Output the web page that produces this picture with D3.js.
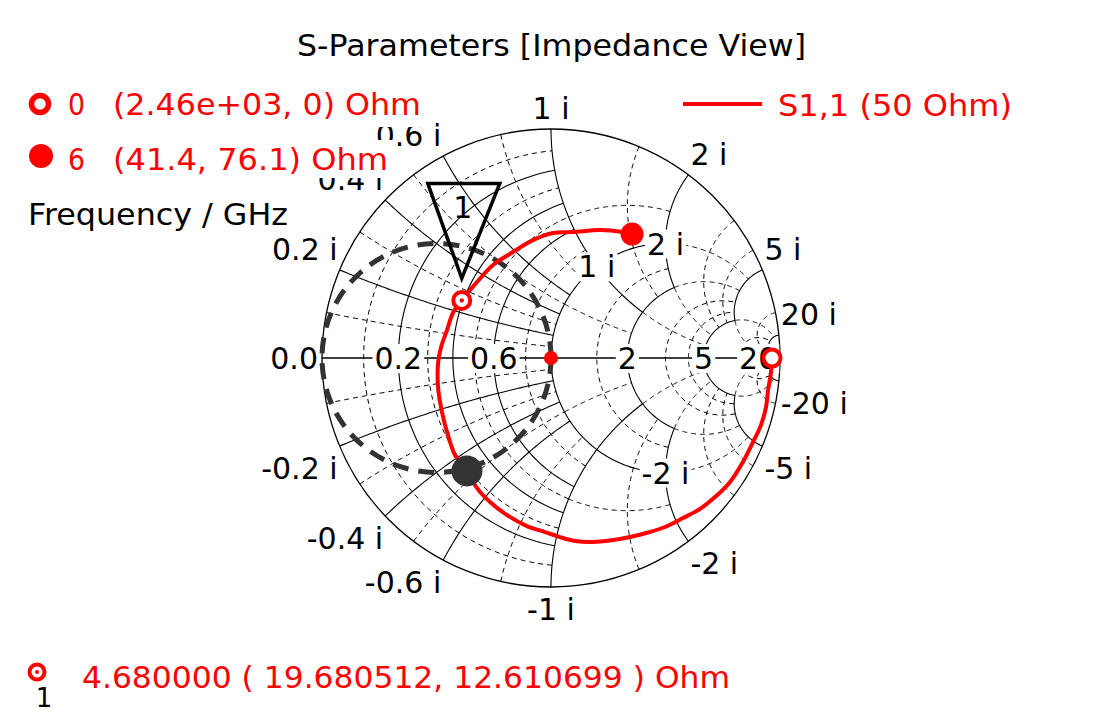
<!DOCTYPE html>
<html>
<head>
<meta charset="utf-8">
<script src="https://cdn.jsdelivr.net/npm/d3@7/dist/d3.min.js"></script>
<style>
html,body{margin:0;padding:0;background:#fff;}
svg{display:block;font-family:"DejaVu Sans",Verdana,sans-serif;}
</style>
</head>
<body>
<svg id="chart" width="1103" height="716"></svg>
<script>
// ---------------- data ----------------
const chartTitle = "S-Parameters [Impedance View]";
const traceName = "S1,1 (50 Ohm)";
const axisName = "Frequency / GHz";
// S1,1 trace (reflection coefficient), 0 GHz -> 6 GHz
const s11Re = [0.965,0.961,0.948,0.939,0.917,0.882,0.838,0.782,0.721,0.651,0.576,0.498,0.432,0.345,0.258,0.183,0.105,0.039,-0.026,-0.105,-0.192,-0.266,-0.323,-0.367,-0.419,-0.454,-0.476,-0.493,-0.493,-0.480,-0.454,-0.428,-0.389,-0.323,-0.253,-0.166,-0.079,0.009,0.096,0.214,0.314,0.354];
const s11Im = [0.000,-0.061,-0.140,-0.214,-0.293,-0.367,-0.454,-0.541,-0.603,-0.659,-0.699,-0.738,-0.760,-0.782,-0.797,-0.803,-0.799,-0.782,-0.760,-0.734,-0.686,-0.629,-0.568,-0.493,-0.424,-0.323,-0.236,-0.131,-0.022,0.048,0.122,0.197,0.253,0.332,0.406,0.463,0.515,0.546,0.550,0.559,0.550,0.541];
const startLabel = ["0", "(2.46e+03, 0) Ohm"];
const endLabel = ["6", "(41.4, 76.1) Ohm"];
const markerName = "1";
const markerFreq = "4.680000";
const markerR = 19.680512, markerX = 12.610699;   // Ohm
const cursorRe = -0.367, cursorIm = -0.493;        // cursor on g = 1 circle
// grid (normalised impedance values)
const zoneBound = [1, 2, 5, 20];
const zoneMajor = [[0.2, 0.4, 0.6, 1], [1, 2], [5], [20]];
const zoneMinor = [[0.1, 0.3, 0.5, 0.8], [0.5, 1.5], [1, 2, 3, 4], [5, 10]];
const reactTicks = [0.2, 0.4, 0.6, 1, 2, 5, 20];
const resistTicks = [0.2, 0.6, 2, 5, 20];
const innerTicks = [[1, 1], [1, 2], [1, -2]];

// ---------------- layout ----------------
const svg = d3.select("#chart");
const cx = 551, cy = 358, R = 229;
const gx = d3.scaleLinear().domain([-1, 1]).range([cx - R, cx + R]);
const gy = d3.scaleLinear().domain([-1, 1]).range([cy + R, cy - R]);
const RED = "#ff0000";
const FS = 30;

function gamma(r, x) {
  const dr = r + 1, nr = r - 1, d = dr * dr + x * x;
  return [(nr * dr + x * x) / d, (2 * x) / d];
}
const line = d3.line().x(d => gx(d[0])).y(d => gy(d[1]));

function rSeg(r, a, b) {
  const ta = Math.atan(a), tb = Math.atan(b), pts = [];
  for (let i = 0; i <= 90; i++) pts.push(gamma(r, Math.tan(ta + (tb - ta) * i / 90)));
  return pts;
}
function xSeg(x, a, b) {
  const ta = Math.atan(a), tb = Math.atan(b), pts = [];
  for (let i = 0; i <= 90; i++) pts.push(gamma(Math.tan(ta + (tb - ta) * i / 90), x));
  return pts;
}

// ---------------- grid ----------------
const segs = [];
zoneBound.forEach((hi, i) => {
  const lo = i === 0 ? 0 : zoneBound[i - 1];
  const add = (v, minor) => {
    if (v <= lo) {
      segs.push({p: rSeg(v, lo, hi), minor});
      segs.push({p: rSeg(v, -hi, -lo), minor});
      segs.push({p: xSeg(v, lo, hi), minor});
      segs.push({p: xSeg(-v, lo, hi), minor});
    } else {
      segs.push({p: rSeg(v, -hi, hi), minor});
      segs.push({p: xSeg(v, 0, hi), minor});
      segs.push({p: xSeg(-v, 0, hi), minor});
    }
  };
  zoneMinor[i].forEach(v => add(v, true));
  zoneMajor[i].forEach(v => add(v, false));
});
const gGrid = svg.append("g").attr("fill", "none").attr("stroke", "#000");
segs.filter(s => s.minor).forEach(s =>
  gGrid.append("path").attr("d", line(s.p)).attr("stroke-width", 1).attr("stroke-dasharray", "5,4"));
segs.filter(s => !s.minor).forEach(s =>
  gGrid.append("path").attr("d", line(s.p)).attr("stroke-width", 1.1));
gGrid.append("circle").attr("cx", gx(0)).attr("cy", gy(0)).attr("r", gx(1) - gx(0)).attr("stroke-width", 1.3);
gGrid.append("line").attr("x1", gx(-1)).attr("x2", gx(1)).attr("y1", gy(0)).attr("y2", gy(0)).attr("stroke-width", 1.3);

// ---------------- labels ----------------
function label(g, x, y, s, anchor, color, bg) {
  const t = g.append("text").attr("x", x).attr("y", y).attr("text-anchor", anchor)
    .attr("font-size", FS).attr("fill", color || "#000").text(s);
  if (bg) {
    const b = t.node().getBBox();
    g.insert("rect", () => t.node()).attr("x", b.x - 2).attr("y", b.y + 3)
      .attr("width", b.width + 4).attr("height", b.height - 6).attr("fill", "#fff");
  }
  return t;
}
const gLab = svg.append("g");
reactTicks.forEach(v => {
  [v, -v].forEach(xv => {
    const g = gamma(0, xv);
    const px = gx(g[0]), py = gy(g[1]);
    const anchor = g[0] > 0.05 ? "start" : (g[0] < -0.05 ? "end" : "middle");
    const dx = anchor === "start" ? 2 : (anchor === "end" ? -2 : 0);
    const y = g[1] > 0 ? py - 10 : py + 33;
    label(gLab, px + dx, y, (xv < 0 ? "-" : "") + v + " i", anchor);
  });
});
label(gLab, gx(-1) - 4, gy(0) + 11, "0.0", "end");
resistTicks.forEach(v => {
  const g = gamma(v, 0);
  label(gLab, gx(g[0]), gy(0) + 11, String(v), "middle", "#000", true);
});
innerTicks.forEach(([r, x]) => {
  const g = gamma(r, x);
  label(gLab, gx(g[0]), gy(g[1]) + 11, x + " i", "middle", "#000", true);
});

// ---------------- g = 1 circle ----------------
svg.append("circle").attr("cx", gx(-0.5)).attr("cy", gy(0)).attr("r", gx(0) - gx(-0.5))
  .attr("fill", "none").attr("stroke", "#333").attr("stroke-width", 5).attr("stroke-dasharray", "16,10");

// ---------------- trace ----------------
const pts = s11Re.map((re, i) => [re, s11Im[i]]);
svg.append("path").attr("d", d3.line().x(d => gx(d[0])).y(d => gy(d[1])).curve(d3.curveCatmullRom.alpha(0.5))(pts))
  .attr("fill", "none").attr("stroke", RED).attr("stroke-width", 4).attr("stroke-linejoin", "round");

// centre point
svg.append("circle").attr("cx", gx(0)).attr("cy", gy(0)).attr("r", 7).attr("fill", RED);
// start (open) and end (filled) markers
svg.append("circle").attr("cx", gx(pts[0][0])).attr("cy", gy(pts[0][1])).attr("r", 8.5)
  .attr("fill", "#fff").attr("stroke", RED).attr("stroke-width", 4);
const last = pts[pts.length - 1];
svg.append("circle").attr("cx", gx(last[0])).attr("cy", gy(last[1])).attr("r", 11.5).attr("fill", RED);

// frequency marker 1
const mg = gamma(markerR / 50, markerX / 50);
const mx = gx(mg[0]), my = gy(mg[1]);
svg.append("circle").attr("cx", mx).attr("cy", my).attr("r", 8.5).attr("fill", "#fff")
  .attr("stroke", RED).attr("stroke-width", 4);
svg.append("circle").attr("cx", mx).attr("cy", my).attr("r", 2.2).attr("fill", RED);
svg.append("path").attr("d", `M${mx - 34},${my - 117}L${mx + 38},${my - 117}L${mx},${my - 22}Z`)
  .attr("fill", "none").attr("stroke", "#000").attr("stroke-width", 3.5).attr("stroke-linejoin", "miter");
svg.append("text").attr("x", mx + 1).attr("y", my - 82).attr("text-anchor", "middle")
  .attr("font-size", FS).attr("fill", "#000").text(markerName);

// cursor
svg.append("circle").attr("cx", gx(cursorRe)).attr("cy", gy(cursorIm)).attr("r", 15.5).attr("fill", "#333");

// ---------------- title & legends ----------------
function fitText(x, y, s, len, color, anchor) {
  return svg.append("text").attr("x", x).attr("y", y).attr("font-size", FS)
    .attr("fill", color || "#000").attr("text-anchor", anchor || "start")
    .attr("textLength", len).attr("lengthAdjust", "spacingAndGlyphs").text(s);
}
fitText(297, 56, chartTitle, 509);

// legend backgrounds (cover the grid labels underneath)
svg.append("rect").attr("x", 25).attr("y", 88).attr("width", 400).attr("height", 39).attr("fill", "#fff");
svg.append("rect").attr("x", 25).attr("y", 140).attr("width", 368).attr("height", 38).attr("fill", "#fff");

svg.append("circle").attr("cx", 40).attr("cy", 104).attr("r", 8.5).attr("fill", "#fff")
  .attr("stroke", RED).attr("stroke-width", 5.5);
fitText(68, 115, startLabel[0], 17, RED);
fitText(113, 115, startLabel[1], 308, RED);
svg.append("circle").attr("cx", 41).attr("cy", 156).attr("r", 12).attr("fill", RED);
fitText(68, 170, endLabel[0], 17, RED);
fitText(113, 170, endLabel[1], 275, RED);
fitText(28, 225, axisName, 260);

svg.append("line").attr("x1", 683).attr("x2", 762).attr("y1", 104).attr("y2", 104)
  .attr("stroke", RED).attr("stroke-width", 4);
fitText(778, 116, traceName, 234, RED);

// bottom marker readout
svg.append("circle").attr("cx", 37).attr("cy", 672).attr("r", 7.5).attr("fill", "#fff")
  .attr("stroke", RED).attr("stroke-width", 4);
svg.append("circle").attr("cx", 37).attr("cy", 672).attr("r", 2).attr("fill", RED);
svg.append("text").attr("x", 44).attr("y", 707).attr("text-anchor", "middle").attr("font-size", 26)
  .attr("fill", "#000").text(markerName);
fitText(82, 688, `${markerFreq} ( ${markerR.toFixed(6)}, ${markerX.toFixed(6)} ) Ohm`, 648, RED);
</script>
</body>
</html>
